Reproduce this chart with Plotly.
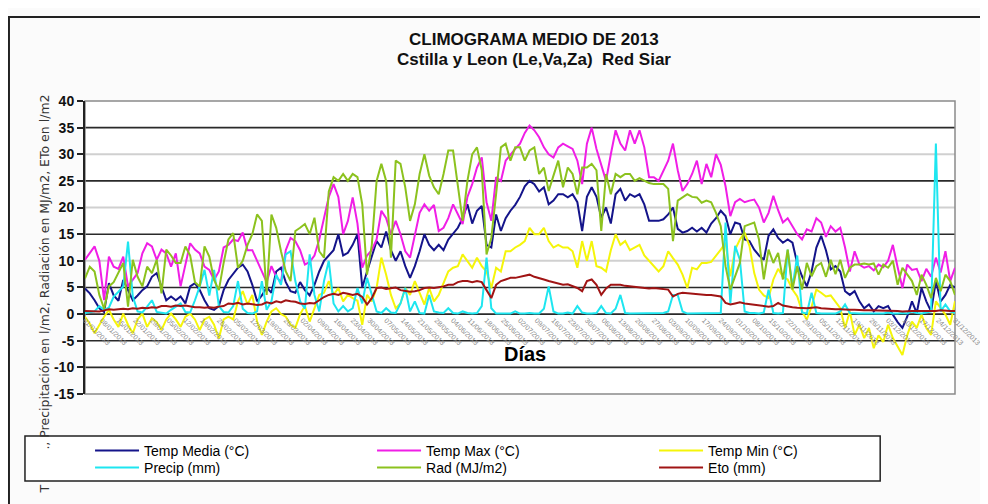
import pandas as pd
import plotly.graph_objects as go

# ---- data (one value every 2 days, 1 Jan 2013 .. 31 Dec 2013) ----
dates = pd.date_range("2013-01-01", periods=183, freq="2D")

temp_media = [
    4.8, 3.9, 2.6, 1.1, 0.4, 5.8, 3.5, 2.5, 6.4, 4.5,
    2.6, 3.5, 4.5, 5.2, 7.0, 7.7, 5.2, 2.6, 3.3, 2.6,
    3.3, 2.0, 5.2, 5.8, 4.5, 2.6, 1.1, 0.8, 1.5, 4.5,
    6.4, 7.5, 8.7, 9.3, 8.0, 5.5, 2.4, 3.5, 5.0, 4.0,
    8.0, 8.7, 6.0, 4.3, 4.0, 6.0, 4.5, 3.5, 5.5, 8.0,
    10.0, 11.0, 12.0, 15.0, 11.0, 11.5, 13.0, 15.0, 5.0, 8.0,
    11.0, 13.7, 12.5, 15.5, 12.0, 10.0, 11.8, 9.0, 6.8, 9.0,
    11.8, 15.0, 13.0, 12.0, 13.0, 12.0, 14.0, 15.0, 16.2, 18.0,
    20.6, 17.0, 19.4, 20.3, 13.0, 12.5, 18.7, 15.6, 18.0, 19.4,
    20.5, 22.0, 24.0, 25.0, 24.4, 23.0, 23.8, 20.6, 21.3, 22.5,
    22.5, 21.9, 22.5, 21.0, 15.6, 22.0, 23.8, 22.0, 18.1, 20.0,
    17.0, 22.5, 23.5, 21.3, 22.5, 22.0, 22.5, 20.6, 17.5, 17.5,
    17.5, 17.8, 18.7, 20.0, 16.0, 15.3, 15.6, 16.2, 15.5, 16.2,
    15.3, 17.0, 18.0, 19.4, 18.4, 15.0, 17.2, 16.9, 14.0, 13.7,
    12.1, 11.0, 10.2, 14.7, 15.9, 14.3, 13.4, 14.0, 13.4, 9.5,
    7.1, 5.2, 8.0, 12.5, 14.7, 12.0, 8.4, 9.0, 8.0, 4.3,
    3.6, 4.3, 2.4, 1.1, 1.8, 0.5, 1.5, 1.1, 1.5, -0.1,
    -1.5, -2.6, -0.5, 2.4, 0.2, 4.9, 2.4, 0.5, 6.2, 2.4,
    3.6, 5.5, 5.0,
]

temp_max = [
    10.2, 11.4, 12.7, 10.0, 2.6, 10.8, 8.9, 8.5, 10.8, 5.2,
    6.4, 7.7, 11.4, 13.3, 12.7, 10.2, 12.1, 11.4, 8.9, 11.4,
    5.2, 9.0, 13.3, 12.1, 11.4, 8.9, 8.3, 6.4, 8.0, 12.5,
    13.0, 14.0, 13.7, 15.3, 12.0, 12.0, 10.0, 8.0, 6.0, 9.0,
    7.0, 6.0, 12.0, 14.3, 13.7, 12.0, 9.3, 9.8, 11.0, 14.0,
    18.0, 22.0, 24.4, 22.0, 15.0, 17.5, 21.9, 17.0, 8.7, 11.0,
    12.0, 14.0, 19.4, 18.0, 15.0, 17.5, 15.0, 11.8, 10.6, 15.0,
    19.0, 20.6, 19.4, 20.5, 15.6, 16.2, 18.0, 20.6, 18.7, 16.9,
    22.0, 24.4, 27.5, 29.4, 21.0, 17.5, 25.7, 25.0, 28.8, 30.0,
    31.0, 32.0, 34.0, 35.4, 34.5, 33.2, 31.3, 30.0, 29.4, 31.3,
    32.0, 31.5, 31.0, 28.8, 24.4, 32.0, 35.0, 31.0, 28.2, 25.0,
    30.0, 34.5, 32.0, 30.7, 34.5, 32.0, 34.5, 31.3, 25.7, 25.7,
    25.0, 27.0, 28.8, 32.0, 27.0, 23.1, 24.4, 26.3, 28.8, 24.4,
    28.2, 25.7, 30.0, 28.0, 24.0, 18.4, 21.0, 21.6, 21.0, 21.3,
    21.5, 20.0, 17.2, 19.0, 22.2, 19.5, 17.2, 18.0, 16.5, 15.0,
    14.0, 15.9, 15.5, 18.0, 17.2, 14.5, 16.5, 15.5, 16.2, 12.5,
    8.0, 11.8, 9.3, 8.7, 9.0, 8.2, 9.3, 8.8, 10.0, 13.0,
    8.8, 4.9, 9.3, 8.3, 8.5, 6.2, 8.5, 7.0, 10.6, 7.8,
    11.8, 6.2, 8.7,
]

temp_min = [
    -0.5, -1.8, -3.6, -2.0, -0.5, 0.8, -1.0, -2.4, 0.1, -2.0,
    -3.6, -1.0, 0.1, -2.4, -0.8, -1.5, -3.0, -1.0, 0.1, -1.0,
    -2.4, -0.5, 0.1, -1.0, -3.0, -1.0, -0.5, -2.0, -4.6, -1.0,
    -0.5, -1.0, 2.4, 4.3, 1.8, 3.6, -1.4, -3.9, -1.4, 0.5,
    1.1, 0.0, -0.5, -2.0, -2.6, 0.0, 1.5, -1.4, 1.0, 3.6,
    4.0, 6.2, 3.6, 4.9, 2.4, 3.6, 3.0, 2.5, -2.0, 3.6,
    2.4, 4.9, 10.6, 7.4, 3.6, 1.1, 2.0, 4.9, 3.6, 6.2,
    4.0, 1.8, 4.9, 2.4, 3.6, 6.0, 8.0, 8.7, 9.0, 11.2,
    10.0, 8.7, 10.6, 9.0, 8.0, 4.9, 8.7, 8.0, 11.8, 11.8,
    12.5, 13.0, 13.7, 16.2, 15.0, 15.0, 16.2, 13.7, 12.5, 13.0,
    12.5, 12.5, 11.8, 8.7, 13.7, 10.0, 13.7, 9.0, 8.7, 8.0,
    12.0, 15.0, 13.0, 13.7, 12.0, 12.5, 13.0, 11.0, 10.0, 9.0,
    8.0, 9.0, 11.8, 10.5, 9.3, 7.4, 4.9, 8.7, 8.4, 9.6,
    9.6, 9.8, 10.9, 12.1, 13.4, 7.1, 12.1, 14.0, 15.3, 12.8,
    7.7, 4.6, 3.5, 3.0, 6.5, 8.5, 7.0, 6.5, 4.6, 3.3,
    0.5, -1.0, 1.4, 4.6, 4.0, 3.3, 3.5, 2.4, 1.1, -2.6,
    0.5, -3.9, -2.0, -4.5, -2.6, -6.4, -4.0, -5.2, -2.0, -4.5,
    -6.0, -7.7, -4.0, -1.4, -2.6, -0.1, -2.6, -3.9, 2.4, 1.1,
    -0.1, -2.0, 2.4,
]

precip = [
    0.2, 0.3, 0.5, 1.5, 0.8, 1.2, 3.3, 4.2, 5.2, 13.6,
    3.3, 0.5, 0.3, 1.4, 2.6, 0.4, 0.2, 0.1, 0.8, 1.4,
    2.0, 0.4, 0.3, 2.6, 5.2, 8.3, 3.5, 8.3, 1.5, 0.4,
    0.3, 1.5, 6.2, 1.0, 0.2, 0.1, 0.5, 6.2, 0.8, 2.4,
    7.4, 5.5, 11.2, 11.8, 6.2, 2.4, 1.0, 11.2, 3.6, 0.5,
    6.2, 10.0, 2.0, 0.5, 1.5, 0.5, 1.1, 4.9, 2.0, 6.8,
    3.6, 0.5, 0.2, 1.1, 0.3, 0.2, 2.0, 4.9, 0.5, 2.4,
    0.2, 0.1, 3.6, 0.5, 0.3, 0.2, 1.1, 0.2, 0.1, 0.5,
    0.2, 0.1, 0.2, 1.5, 10.6, 1.1, 0.1, 0.1, 0.2, 0.1,
    0.5, 0.1, 0.1, 0.2, 0.1, 0.1, 1.0, 5.2, 0.5, 0.1,
    0.1, 0.3, 0.1, 1.5, 0.3, 0.1, 0.1, 0.2, 1.5, 0.2,
    0.1, 1.0, 3.6, 0.2, 0.1, 0.1, 0.1, 0.2, 0.1, 0.1,
    0.1, 0.2, 0.5, 3.6, 3.6, 0.5, 0.1, 0.1, 0.1, 0.2,
    0.1, 0.1, 0.2, 0.2, 17.2, 2.0, 12.8, 10.2, 0.5, 0.2,
    0.2, 0.1, 0.3, 4.6, 0.2, 0.1, 0.2, 12.1, 5.0, 11.0,
    0.3, 0.1, 4.0, 0.2, 0.1, 0.1, 0.2, 0.1, 0.5, 1.8,
    0.2, 0.1, 0.1, 0.1, 0.1, 0.2, 0.1, 0.1, 0.3, 0.1,
    0.1, 0.2, 0.1, 0.5, 0.2, 0.1, 0.3, 0.5, 32.0, 0.5,
    1.8, 0.5, 0.2,
]

radiacion = [
    6.7, 8.9, 8.0, 3.6, 1.0, 5.2, 6.0, 7.7, 9.6, 1.4,
    10.2, 7.0, 5.2, 8.9, 7.7, 10.2, 3.9, 12.1, 11.0, 9.6,
    9.6, 12.7, 11.0, 6.0, 5.2, 12.7, 10.8, 6.4, 4.5, 9.6,
    14.0, 15.2, 8.7, 10.0, 13.0, 15.0, 18.7, 17.5, 3.6, 18.7,
    16.2, 11.8, 8.0, 6.2, 15.6, 16.2, 16.9, 15.0, 18.1, 11.8,
    10.6, 23.0, 25.7, 25.0, 26.3, 25.0, 26.3, 25.7, 20.6, 7.4,
    13.0, 25.0, 28.2, 25.0, 10.6, 28.8, 28.2, 23.8, 17.5, 20.6,
    26.3, 30.0, 26.0, 23.8, 22.5, 26.3, 30.7, 30.7, 23.8, 17.5,
    25.0, 30.0, 31.3, 27.0, 11.2, 14.3, 22.5, 31.3, 32.0, 28.8,
    31.3, 31.3, 28.8, 30.7, 31.3, 26.3, 27.5, 23.1, 26.0, 28.8,
    23.8, 27.5, 26.3, 22.5, 27.5, 27.5, 28.2, 27.0, 15.6, 26.3,
    22.5, 26.3, 25.7, 26.3, 26.3, 25.0, 25.5, 25.0, 24.6, 24.4,
    24.4, 24.4, 23.5, 13.7, 21.3, 21.9, 22.5, 22.0, 21.9, 20.9,
    21.3, 21.0, 19.0, 16.5, 9.0, 4.6, 7.1, 9.6, 16.5, 16.9,
    17.2, 14.0, 6.5, 12.1, 9.6, 11.5, 6.5, 12.1, 4.6, 9.0,
    4.6, 9.6, 7.1, 9.0, 9.6, 7.0, 10.2, 7.5, 10.2, 6.8,
    8.7, 9.3, 9.3, 9.5, 9.3, 9.5, 7.4, 9.3, 8.7, 10.0,
    5.5, 8.7, 7.4, 6.2, 3.6, 7.4, 5.5, 3.0, 6.8, 4.3,
    7.4, 6.2, 3.6,
]

eto = [
    0.6, 0.6, 0.6, 0.5, 0.7, 0.9, 0.8, 0.9, 1.0, 0.9,
    1.1, 1.0, 1.2, 1.1, 1.3, 1.2, 1.5, 1.5, 1.4, 1.6,
    1.5, 1.6, 1.4, 1.3, 1.3, 1.2, 1.3, 1.2, 1.4, 1.5,
    2.0, 1.9, 2.1, 1.8, 2.0, 1.8, 1.7, 1.8, 2.2, 2.0,
    2.4, 2.2, 2.6, 2.4, 2.3, 2.0, 1.9, 2.1, 2.0, 2.6,
    3.2, 3.6, 3.8, 3.6, 4.0, 3.8, 3.6, 3.8, 3.2, 1.8,
    3.0, 4.9, 5.0, 4.7, 4.9, 5.0, 4.5, 4.3, 4.2, 4.3,
    4.5, 4.9, 5.0, 4.9, 5.0, 5.2, 5.5, 5.5, 6.0, 6.2,
    6.2, 6.0, 6.2, 6.0, 4.5, 3.0, 5.5, 6.2, 6.5, 6.8,
    6.8, 7.0, 7.2, 7.4, 7.0, 6.8, 6.5, 6.2, 6.0, 5.8,
    5.5, 5.6, 5.3, 4.9, 4.3, 6.2, 6.5, 5.5, 3.6, 4.8,
    5.5, 5.5, 5.5, 5.3, 5.2, 5.0, 4.9, 4.9, 4.8, 4.9,
    4.8, 4.6, 4.6, 3.3, 3.8, 4.0, 3.9, 3.8, 3.7, 3.6,
    3.6, 3.6, 3.5, 3.3, 2.1, 1.8, 2.0, 2.2, 2.0, 1.9,
    1.8, 1.6, 1.5, 1.4, 1.5, 2.1, 1.6, 1.4, 1.3, 1.2,
    1.1, 1.1, 1.2, 1.3, 1.1, 1.0, 1.0, 0.9, 0.9, 0.8,
    0.8, 0.8, 0.7, 0.7, 0.7, 0.7, 0.6, 0.6, 0.6, 0.6,
    0.6, 0.5, 0.6, 0.6, 0.6, 0.6, 0.5, 0.6, 0.6, 0.7,
    0.6, 0.6, 0.6,
]

series_names = ["Temp Media (°C)", "Temp Max (°C)", "Temp Min (°C)",
                "Precip (mm)", "Rad (MJ/m2)", "Eto (mm)"]
series_values = [temp_media, temp_max, temp_min, precip, radiacion, eto]
series_colors = ["#14148a", "#f01ee6", "#f5f50a", "#1ee6f0", "#8cc21e", "#a01414"]
series_legend = ["legend", "legend", "legend", "legend2", "legend2", "legend2"]

y_ticks = [40, 35, 30, 25, 20, 15, 10, 5, 0, -5, -10, -15]

TITLE_1 = "CLIMOGRAMA MEDIO DE 2013"
TITLE_2 = "Cstilla y Leon (Le,Va,Za)&nbsp; Red Siar"
X_TITLE = "Días"
Y_TITLE_LOW = "T"
Y_TITLE_HIGH = "., Precipitación en l/m2, Radiación en MJ/m2, ETo en l/m2"

FONT = "Liberation Sans Narrow, Liberation Sans, Arial, sans-serif"

fig = go.Figure()
for name, vals, col, lg in zip(series_names, series_values, series_colors, series_legend):
    fig.add_trace(go.Scatter(x=dates, y=vals, name=name, mode="lines", legend=lg,
                             line=dict(color=col, width=2)))

shapes = []
dark = [35, 25, 15, 5, 0, -5, -10]
light = [30, 20, 10]
for v in light:
    shapes.append(dict(type="line", xref="paper", yref="y", x0=0, x1=1, y0=v, y1=v,
                       line=dict(color="#d0d0d0", width=2), layer="below"))
for v in dark:
    shapes.append(dict(type="line", xref="paper", yref="y", x0=0, x1=1, y0=v, y1=v,
                       line=dict(color="#2a2a2a", width=1.6), layer="below"))
# plot frame
shapes.append(dict(type="rect", xref="paper", yref="paper", x0=0, x1=1, y0=0, y1=1,
                   line=dict(color="#8a8a8a", width=1.5), layer="below"))
# outer chart frame (left & top visible)
shapes.append(dict(type="rect", xref="paper", yref="paper", x0=-0.0874, x1=1.3,
                   y0=-1.0, y1=1.2867, line=dict(color="#222222", width=2), layer="below"))
# legend box
shapes.append(dict(type="rect", xref="paper", yref="paper", x0=-0.069, x1=0.914,
                   y0=-0.297, y1=-0.143, line=dict(color="#222222", width=1.5),
                   fillcolor="white", layer="above"))

annotations = [
    dict(text="<b>%s</b>" % TITLE_1, xref="paper", yref="paper", x=0.516, y=1.2116,
         showarrow=False, font=dict(size=17, color="#111", family=FONT), yanchor="middle"),
    dict(text="<b>%s</b>" % TITLE_2, xref="paper", yref="paper", x=0.516, y=1.14,
         showarrow=False, font=dict(size=17, color="#111", family=FONT), yanchor="middle"),
    dict(text="<b>%s</b>" % X_TITLE, xref="paper", yref="y", x=0.506, y=-7.4,
         showarrow=False, font=dict(size=20, color="#000", family=FONT), yanchor="middle"),
    dict(text=Y_TITLE_HIGH, xref="paper", yref="paper", x=-0.047, y=-0.198,
         textangle=-90, showarrow=False, xanchor="center", yanchor="bottom",
         font=dict(size=12.5, color="#333", family="DejaVu Sans, sans-serif")),
    dict(text=Y_TITLE_LOW, xref="paper", yref="paper", x=-0.047, y=-0.3038,
         textangle=-90, showarrow=False, xanchor="center", yanchor="top",
         font=dict(size=12.5, color="#333", family="DejaVu Sans, sans-serif")),
]

legend_common = dict(orientation="h", xanchor="left", yanchor="middle",
                     bgcolor="rgba(0,0,0,0)", borderwidth=0, itemwidth=44,
                     entrywidth=223, entrywidthmode="pixels",
                     font=dict(size=14, color="#000", family=FONT))

fig.update_layout(
    template="none",
    width=980, height=496,
    margin=dict(l=77, r=33, t=93, b=110, autoexpand=False),
    paper_bgcolor="#fbfbfb",
    plot_bgcolor="#ffffff",
    font=dict(family=FONT, color="#111"),
    showlegend=True,
    legend=dict(x=0.0058, y=-0.1945, **legend_common),
    legend2=dict(x=0.0058, y=-0.2526, **legend_common),
    xaxis=dict(type="date", range=["2013-01-01", "2013-12-31"], anchor="free",
               position=15 / 55, showgrid=False, zeroline=False, showline=False,
               tick0="2013-01-01", dtick=7 * 86400000, tickformat="%d/%m/%Y",
               tickangle=45, ticks="", tickfont=dict(size=7, color="#8a8a8a"),
               automargin=False),
    yaxis=dict(range=[-15, 40], tickvals=y_ticks, ticktext=[str(v) for v in y_ticks],
               showgrid=False, zeroline=False, showline=True, linecolor="#222",
               linewidth=2, ticks="outside", ticklen=6, tickcolor="#222", tickwidth=1.5,
               tickfont=dict(size=14, color="#111", family="Liberation Sans, Arial",
                             weight="bold"),
               automargin=False),
    shapes=shapes,
    annotations=annotations,
)

fig.write_html("out.html")
